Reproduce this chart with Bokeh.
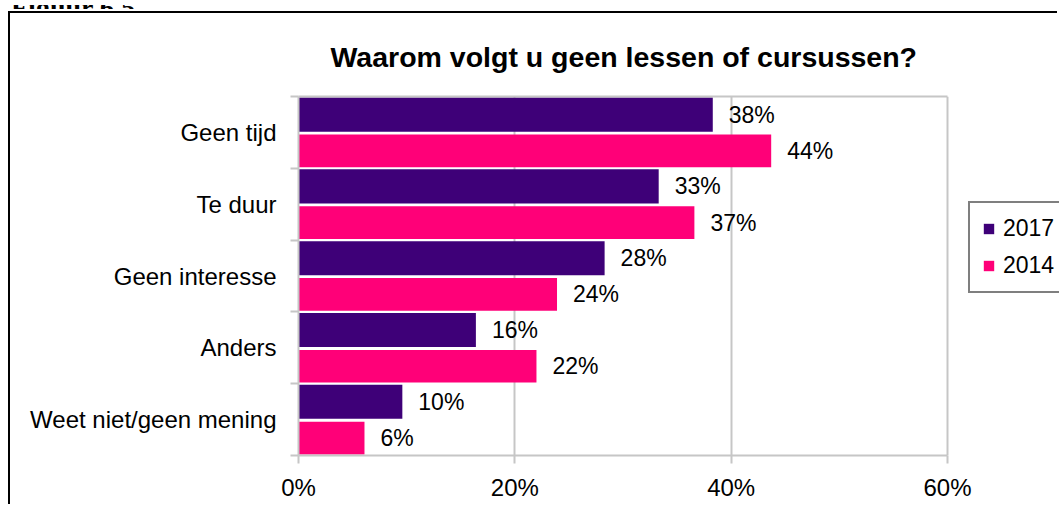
from bokeh.plotting import figure
from bokeh.models import (Range1d, FixedTicker, PrintfTickFormatter, ColumnDataSource,
                          Legend, LegendItem, LabelSet, LinearAxis, Div)
from bokeh.layouts import column
from bokeh.core.properties import value
from bokeh.embed import file_html
from bokeh.resources import INLINE

figure_caption = "Figuur 6.5"
categories = ["Geen tijd", "Te duur", "Geen interesse", "Anders", "Weet niet/geen mening"]
v2017 = [38.3, 33.3, 28.3, 16.4, 9.6]
v2014 = [43.7, 36.6, 23.9, 22.0, 6.1]
series_names = ["2017", "2014"]
x_ticks = [0, 20, 40, 60]

PURPLE = "#3e0078"
PINK = "#ff0078"
GREY = "#c6c6c6"
FONT = "Liberation Sans"

n = len(categories)
base = [n - 1 - i for i in range(n)]
src17 = ColumnDataSource(dict(y=[b + 0.748 for b in base], v=v2017,
                              lab=[f"{round(v)}%" for v in v2017]))
src14 = ColumnDataSource(dict(y=[b + 0.243 for b in base], v=v2014,
                              lab=[f"{round(v)}%" for v in v2014]))

# caption strip (only the bottom of the caption is visible, as in the scan)
cap = Div(text=f'<div style="font:bold 28px \'Liberation Serif\';line-height:28px;'
               f'margin-top:-24px;margin-left:6px;white-space:nowrap;color:black">'
               f'{figure_caption}</div>',
          width=300, height=4,
          styles={"position": "absolute", "top": "0px", "left": "0px",
                  "height": "4px", "overflow": "hidden", "z-index": "5"})

# canvas origin on the page: (10, 13) because of the CSS margin + border
W, H = 1049, 493
FL, FR60, FT, FB = 288, 937, 83, 442       # frame left, x of 60%, frame top, bottom
x_max = x_ticks[-1]
x_end = x_max * (W - FL) / (FR60 - FL)     # frame runs to the canvas edge

p = figure(width=W, height=H, output_backend="svg", toolbar_location=None,
           x_range=Range1d(0, x_end), y_range=Range1d(0, n),
           min_border_left=FL, min_border_right=0, min_border_top=FT,
           min_border_bottom=H - FB)
p.styles = {"margin-left": "8px", "margin-top": "11px",
            "border-left": "2px solid black", "border-top": "2px solid black"}
p.title.text = "Waarom volgt u geen lessen of cursussen?"
p.title.align = "left"
p.title.offset = 32
p.title.text_font = FONT
p.title.text_font_size = "28.5px"
p.title.text_font_style = "bold"
p.title.text_color = "black"
p.title.standoff = 48

r17 = p.hbar(y="y", right="v", left=0, height=0.475, source=src17,
             fill_color=PURPLE, line_color=None)
r14 = p.hbar(y="y", right="v", left=0, height=0.455, source=src14,
             fill_color=PINK, line_color=None)

for src in (src17, src14):
    p.add_layout(LabelSet(x="v", y="y", text="lab", source=src, x_offset=16,
                          text_font=value(FONT), text_font_size=value("23px"),
                          text_baseline="middle", text_color="black"))

# x axis
xa = p.xaxis[0]
xa.bounds = (0, x_max)
xa.ticker = FixedTicker(ticks=x_ticks)
xa.formatter = PrintfTickFormatter(format="%d%%")
xa.axis_line_color = GREY
xa.axis_line_width = 2
xa.major_tick_line_color = GREY
xa.major_tick_line_width = 2
xa.major_tick_out = 8
xa.major_tick_in = 0
xa.minor_tick_line_color = None
xa.major_label_text_font = FONT
xa.major_label_text_font_size = "24px"
xa.major_label_text_color = "black"
xa.major_label_standoff = 10

# top border line of the plot area
top_axis = LinearAxis(bounds=(0, x_max), ticker=FixedTicker(ticks=[]),
                      axis_line_color=GREY, axis_line_width=2,
                      major_tick_line_color=None, minor_tick_line_color=None,
                      major_label_text_font_size="0px")
p.add_layout(top_axis, "above")

# y axis
ya = p.yaxis[0]
ya.ticker = FixedTicker(ticks=[b + 0.5 for b in base],
                        minor_ticks=list(range(n + 1)))
ya.major_label_overrides = {b + 0.5: c for b, c in zip(base, categories)}
ya.axis_line_color = GREY
ya.axis_line_width = 2
ya.major_tick_line_color = None
ya.major_tick_out = 0
ya.major_tick_in = 0
ya.minor_tick_line_color = GREY
ya.minor_tick_line_width = 2
ya.minor_tick_out = 8
ya.minor_tick_in = 0
ya.major_label_text_font = FONT
ya.major_label_text_font_size = "24px"
ya.major_label_text_color = "black"
ya.major_label_standoff = 14

p.xgrid.ticker = FixedTicker(ticks=x_ticks)
p.xgrid.grid_line_color = GREY
p.xgrid.grid_line_width = 2
p.ygrid.grid_line_color = None
p.outline_line_color = None

legend = Legend(items=[LegendItem(label=series_names[0], renderers=[r17]),
                       LegendItem(label=series_names[1], renderers=[r14])],
                location=(958 - FL, FB - 280))
legend.glyph_width = 13
legend.glyph_height = 13
legend.label_height = 27
legend.label_standoff = 8
legend.spacing = 10
legend.padding = 12
legend.margin = 0
legend.label_text_font = FONT
legend.label_text_font_size = "23px"
legend.label_text_color = "black"
legend.border_line_color = "black"
legend.border_line_width = 2
legend.background_fill_color = "white"
p.add_layout(legend, "center")

layout = column(cap, p, spacing=0)
open("out.html", "w").write(file_html(layout, INLINE))
